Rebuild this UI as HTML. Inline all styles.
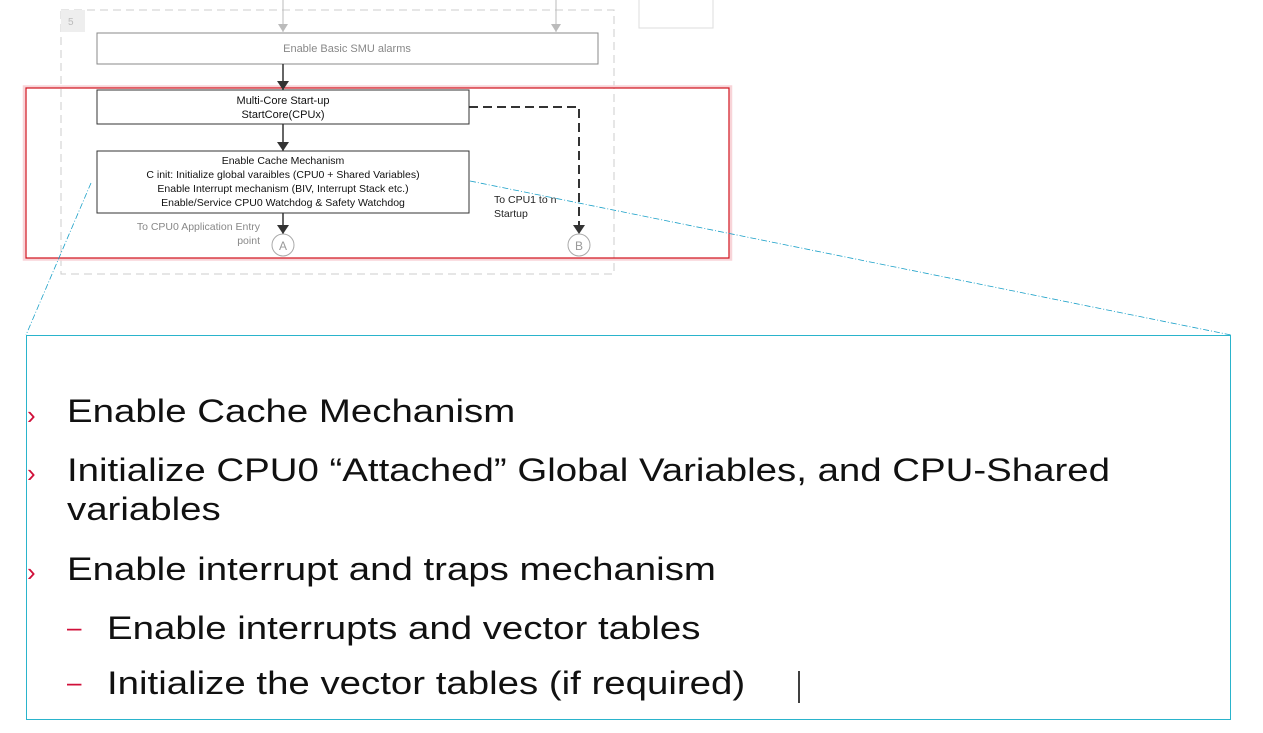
<!DOCTYPE html>
<html><head><style>
body{margin:0;width:1263px;height:733px;background:#fff;position:relative;overflow:hidden;font-family:"Liberation Sans",sans-serif}
.a{position:absolute}
.t{position:absolute;font-size:32px;color:#111;left:67px;white-space:nowrap;transform:scaleX(1.2);transform-origin:0 0}
.m{position:absolute;color:#d0103a;font-size:26px}
</style></head><body>
<svg class="a" style="left:0;top:0" width="1263" height="733">
<defs><marker id="ar" markerUnits="userSpaceOnUse" markerWidth="9" markerHeight="12" refX="9" refY="6" orient="auto"><path d="M0,0 L9,6 L0,12z" fill="#333"/></marker>
<marker id="ag" markerUnits="userSpaceOnUse" markerWidth="8" markerHeight="10" refX="8" refY="5" orient="auto"><path d="M0,0 L8,5 L0,10z" fill="#bbb"/></marker></defs>
<rect x="61" y="10" width="553" height="264" fill="none" stroke="#ccc" stroke-dasharray="8,5"/>
<rect x="61" y="10" width="24" height="22" fill="#eee"/>
<text x="68" y="25" font-size="10" fill="#bbb">5</text>
<rect x="639" y="-2" width="74" height="30" fill="none" stroke="#ddd"/>
<line x1="283" y1="0" x2="283" y2="32" stroke="#bbb" marker-end="url(#ag)"/>
<line x1="556" y1="0" x2="556" y2="32" stroke="#bbb" marker-end="url(#ag)"/>
<rect x="97" y="33" width="501" height="31" fill="#fff" stroke="#888"/>
<text x="347" y="52" font-size="11" fill="#888" text-anchor="middle">Enable Basic SMU alarms</text>
<rect x="24" y="86.5" width="707" height="173" fill="none" stroke="#f8d4d8" stroke-width="2.5"/>
<rect x="26" y="88" width="703" height="170" fill="none" stroke="#d0101c" stroke-width="1.2"/>
<line x1="283" y1="64" x2="283" y2="90" stroke="#333" stroke-width="1.5" marker-end="url(#ar)"/>
<rect x="97" y="90" width="372" height="34" fill="#fff" stroke="#333"/>
<text x="283" y="104" font-size="11" fill="#111" text-anchor="middle">Multi-Core Start-up</text>
<text x="283" y="118" font-size="11" fill="#111" text-anchor="middle">StartCore(CPUx)</text>
<line x1="283" y1="124" x2="283" y2="151" stroke="#333" stroke-width="1.5" marker-end="url(#ar)"/>
<rect x="97" y="151" width="372" height="62" fill="#fff" stroke="#333"/>
<g font-size="10.5" fill="#111" text-anchor="middle">
<text x="283" y="164">Enable Cache Mechanism</text>
<text x="283" y="178">C init: Initialize global varaibles (CPU0 + Shared Variables)</text>
<text x="283" y="192">Enable Interrupt mechanism (BIV, Interrupt Stack etc.)</text>
<text x="283" y="206">Enable/Service CPU0 Watchdog &amp; Safety Watchdog</text></g>
<polyline points="469,107 579,107 579,234" fill="none" stroke="#333" stroke-width="2" stroke-dasharray="9,5" marker-end="url(#ar)"/>
<line x1="283" y1="213" x2="283" y2="234" stroke="#333" stroke-width="1.5" marker-end="url(#ar)"/>
<circle cx="283" cy="245" r="11" fill="#fff" stroke="#aaa"/><text x="283" y="250" font-size="12" fill="#999" text-anchor="middle">A</text>
<circle cx="579" cy="245" r="11" fill="#fff" stroke="#aaa"/><text x="579" y="250" font-size="12" fill="#999" text-anchor="middle">B</text>
<text x="260" y="230" font-size="10.5" fill="#888" text-anchor="end">To CPU0 Application Entry</text>
<text x="260" y="244" font-size="10.5" fill="#888" text-anchor="end">point</text>
<text x="494" y="203" font-size="10.5" fill="#222">To CPU1 to n</text>
<text x="494" y="217" font-size="10.5" fill="#222">Startup</text>
<line x1="91" y1="183" x2="26" y2="335" stroke="#1aa0c8" stroke-dasharray="6,2,1,2" stroke-width="0.8"/>
<line x1="470" y1="181" x2="1231" y2="335" stroke="#1aa0c8" stroke-dasharray="6,2,1,2" stroke-width="0.8"/>
<rect x="26.5" y="335.5" width="1204" height="384" fill="none" stroke="#2ab4cc"/>
<line x1="799" y1="671" x2="799" y2="703" stroke="#000" stroke-width="1.5"/>
</svg>
<div class="m" style="left:27px;top:400px">›</div>
<div class="t" style="top:393px">Enable Cache Mechanism</div>
<div class="m" style="left:27px;top:458px">›</div>
<div class="t" style="top:452px">Initialize CPU0 “Attached” Global Variables, and CPU-Shared</div>
<div class="t" style="top:491px">variables</div>
<div class="m" style="left:27px;top:557px">›</div>
<div class="t" style="top:551px">Enable interrupt and traps mechanism</div>
<div class="m" style="left:67px;top:612px">–</div>
<div class="t" style="left:107px;top:610px">Enable interrupts and vector tables</div>
<div class="m" style="left:67px;top:667px">–</div>
<div class="t" style="left:107px;top:665px">Initialize the vector tables (if required)</div>
</body></html>
